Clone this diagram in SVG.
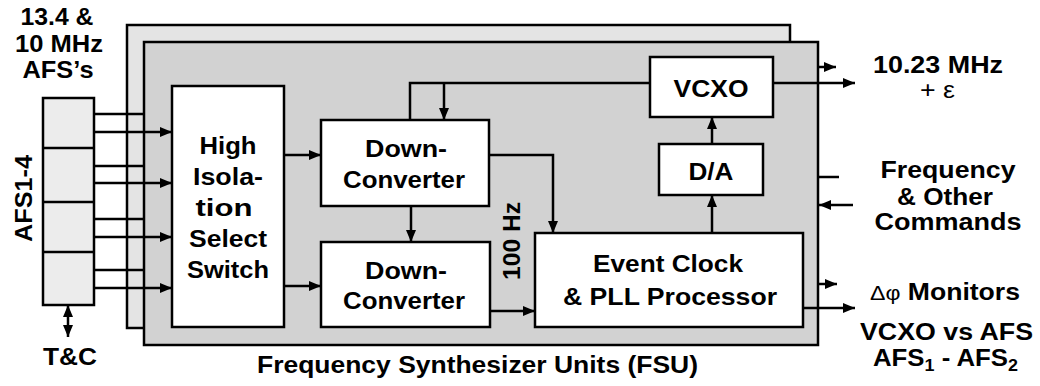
<svg xmlns="http://www.w3.org/2000/svg" width="1040" height="386" viewBox="0 0 1040 386">
<defs>
<marker id="ah" markerUnits="userSpaceOnUse" markerWidth="13" markerHeight="10" refX="12" refY="5" orient="auto">
<path d="M0,0 L12,5 L0,10 z" fill="#000"/>
</marker>
<marker id="ahs" markerUnits="userSpaceOnUse" markerWidth="13" markerHeight="10" refX="0" refY="5" orient="auto">
<path d="M12,0 L0,5 L12,10 z" fill="#000"/>
</marker>
<style>
.box{fill:#fff;stroke:#000;stroke-width:2.5}
.t{font-family:"Liberation Sans",Arial,sans-serif;font-weight:bold;font-size:23px;fill:#000;text-anchor:middle}
.ln{fill:none;stroke:#000;stroke-width:2.5}
.ar{fill:none;stroke:#000;stroke-width:2.5;marker-end:url(#ah)}
</style>
</defs>
<rect width="1040" height="386" fill="#fff"/>

<g id="fsu-back">
<rect x="127" y="25" width="663" height="303" fill="#e4e4e4" stroke="#000" stroke-width="2.5"/>
</g>
<g id="fsu-front">
<rect x="144" y="42" width="674" height="303" fill="#d2d2d2" stroke="#000" stroke-width="2.5"/>
<text class="t" x="477.5" y="373" textLength="441" lengthAdjust="spacingAndGlyphs">Frequency Synthesizer Units (FSU)</text>
</g>

<g id="afs-inputs">
<rect x="43" y="98" width="51" height="207" fill="#ececec" stroke="#000" stroke-width="2.5"/>
<line x1="43" y1="148" x2="94" y2="148" stroke="#000" stroke-width="2.5"/>
<line x1="43" y1="202" x2="94" y2="202" stroke="#000" stroke-width="2.5"/>
<line x1="43" y1="252" x2="94" y2="252" stroke="#000" stroke-width="2.5"/>
<text class="t" transform="translate(32,198.5) rotate(-90)" textLength="87" lengthAdjust="spacingAndGlyphs">AFS1-4</text>
</g>

<g id="label-afs">
<text class="t" x="57" y="25" textLength="73" lengthAdjust="spacingAndGlyphs">13.4 &amp;</text>
<text class="t" x="59" y="52" textLength="88" lengthAdjust="spacingAndGlyphs">10 MHz</text>
<text class="t" x="58" y="78" textLength="71" lengthAdjust="spacingAndGlyphs">AFS’s</text>
</g>

<g id="label-tc">
<text class="t" x="70" y="365" textLength="54" lengthAdjust="spacingAndGlyphs">T&amp;C</text>
</g>

<g id="switch">
<rect class="box" x="172" y="86" width="112" height="241"/>
<text class="t" x="228" y="154" textLength="57" lengthAdjust="spacingAndGlyphs">High</text>
<text class="t" x="228" y="185" textLength="70" lengthAdjust="spacingAndGlyphs">Isola-</text>
<text class="t" x="224" y="216" textLength="57" lengthAdjust="spacingAndGlyphs">tion</text>
<text class="t" x="228" y="247" textLength="78" lengthAdjust="spacingAndGlyphs">Select</text>
<text class="t" x="228" y="278" textLength="82" lengthAdjust="spacingAndGlyphs">Switch</text>
</g>

<g id="dc1">
<rect class="box" x="321" y="120" width="168" height="86"/>
<text class="t" x="406" y="157" textLength="82" lengthAdjust="spacingAndGlyphs">Down-</text>
<text class="t" x="404" y="188" textLength="122" lengthAdjust="spacingAndGlyphs">Converter</text>
</g>

<g id="dc2">
<rect class="box" x="321" y="242" width="169" height="85"/>
<text class="t" x="406" y="279" textLength="82" lengthAdjust="spacingAndGlyphs">Down-</text>
<text class="t" x="404" y="309" textLength="122" lengthAdjust="spacingAndGlyphs">Converter</text>
</g>

<g id="label-100hz">
<text class="t" transform="translate(520,241) rotate(-90)" textLength="78" lengthAdjust="spacingAndGlyphs">100 Hz</text>
</g>

<g id="event-clock">
<rect class="box" x="535" y="233" width="268" height="94"/>
<text class="t" x="668" y="272" textLength="150" lengthAdjust="spacingAndGlyphs">Event Clock</text>
<text class="t" x="670" y="305" textLength="214" lengthAdjust="spacingAndGlyphs">&amp; PLL Processor</text>
</g>

<g id="vcxo">
<rect class="box" x="650" y="57" width="123" height="60"/>
<text class="t" x="711" y="97" textLength="75" lengthAdjust="spacingAndGlyphs">VCXO</text>
</g>

<g id="da">
<rect class="box" x="659" y="144" width="104" height="51"/>
<text class="t" x="711" y="180" textLength="45" lengthAdjust="spacingAndGlyphs">D/A</text>
</g>

<g id="label-output">
<text class="t" x="938" y="73" textLength="130" lengthAdjust="spacingAndGlyphs">10.23 MHz</text>
<text x="937.5" y="98" font-family="Liberation Sans, Arial, sans-serif" font-size="24" text-anchor="middle" textLength="35" lengthAdjust="spacingAndGlyphs">+ ε</text>
</g>

<g id="label-commands">
<text class="t" x="948" y="178" textLength="135" lengthAdjust="spacingAndGlyphs">Frequency</text>
<text class="t" x="945" y="205" textLength="96" lengthAdjust="spacingAndGlyphs">&amp; Other</text>
<text class="t" x="948" y="230" textLength="147" lengthAdjust="spacingAndGlyphs">Commands</text>
</g>

<g id="label-monitors">
<text class="t" x="945" y="300" textLength="150" lengthAdjust="spacingAndGlyphs"><tspan font-weight="normal" font-size="20">Δφ</tspan> Monitors</text>
<text class="t" x="946.5" y="340" textLength="173" lengthAdjust="spacingAndGlyphs">VCXO vs AFS</text>
<text class="t" x="945.5" y="366" textLength="145" lengthAdjust="spacingAndGlyphs">AFS<tspan font-size="16" dy="5">1</tspan><tspan dy="-5"> - AFS</tspan><tspan font-size="16" dy="5">2</tspan></text>
</g>

<g id="connectors">
<path class="ln" d="M94,114 H144 M94,166 H144 M94,219 H144 M94,270 H144"/>
<path class="ar" d="M94,132 H172"/>
<path class="ar" d="M94,183 H172"/>
<path class="ar" d="M94,237 H172"/>
<path class="ar" d="M94,288 H172"/>
<path class="ar" d="M284,155 H321"/>
<path class="ar" d="M284,286 H321"/>
<path class="ar" d="M411,206 V242"/>
<path class="ln" d="M650,83 H410 V120"/>
<path class="ar" d="M444,83 V120"/>
<path class="ar" d="M489,155 H553 V233"/>
<path class="ar" d="M490,311 H535"/>
<path class="ar" d="M712,233 V195"/>
<path class="ar" d="M712,144 V117"/>
<path class="ar" d="M773,83 H855"/>
<path class="ar" d="M818,67 H836"/>
<path class="ar" d="M818,284 H837"/>
<path class="ln" d="M819,177 H839"/>
<path class="ar" d="M853,205 H819"/>
<path class="ar" d="M803,308 H855"/>
<path d="M68,305 V337" fill="none" stroke="#000" stroke-width="2.5" marker-start="url(#ahs)" marker-end="url(#ah)"/>
</g>
</svg>
